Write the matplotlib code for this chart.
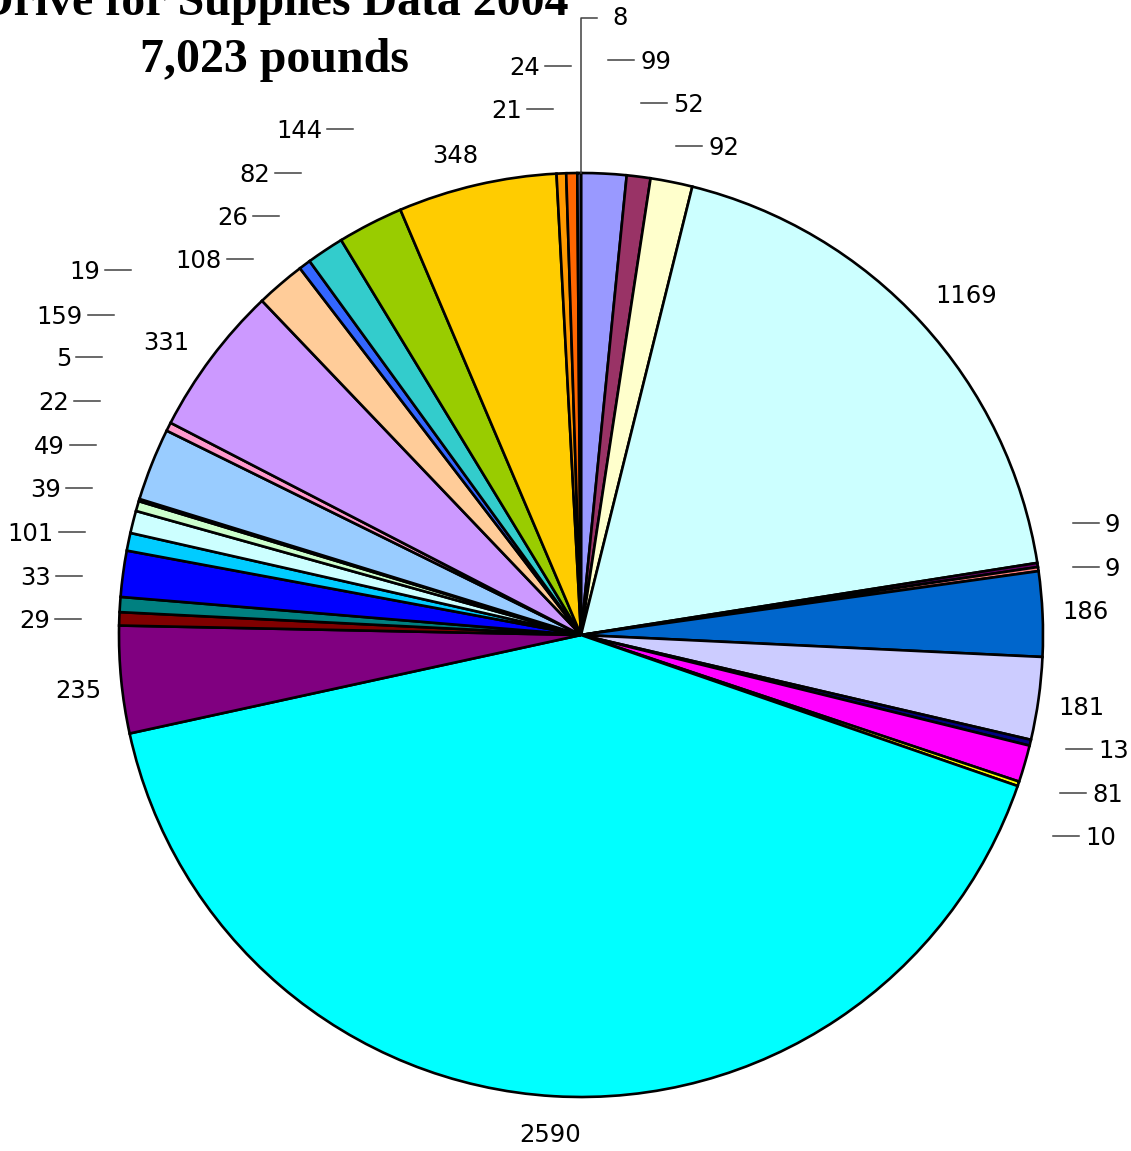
import matplotlib
matplotlib.use("Agg")
import matplotlib.pyplot as plt

# ---- data (clockwise from 12 o'clock) ----
values = [99, 52, 92, 1169, 9, 9, 186, 181, 13, 81, 10, 2590, 235, 29, 33,
          101, 39, 49, 22, 5, 159, 19, 331, 108, 26, 82, 144, 348, 21, 24, 8]
labels = [str(v) for v in values]
colors = ["#9999FF", "#993366", "#FFFFCC", "#CCFFFF", "#660066", "#FF8080",
          "#0066CC", "#CCCCFF", "#000080", "#FF00FF", "#FFFF00", "#00FFFF",
          "#800080", "#800000", "#008080", "#0000FF", "#00CCFF", "#CCFFFF",
          "#CCFFCC", "#FFFF99", "#99CCFF", "#FF99CC", "#CC99FF", "#FFCC99",
          "#3366FF", "#33CCCC", "#99CC00", "#FFCC00", "#FF9900", "#FF6600",
          "#666699"]
title_line1 = "Drive for Supplies Data 2004"
title_line2 = "7,023 pounds"

# ---- label layout (image pixel coords, origin top-left) ----
label_x = [640, 673, 708, 966, 1105, 1105, 1085, 1081, 1098, 1092, 1085, 550,
           78, 50, 51, 54, 61, 65, 69, 71, 83, 100, 166, 222, 248, 270, 322,
           455, 522, 540, 612]
label_y = [62, 105, 148, 296, 525, 569, 612, 708, 751, 795, 838, 1135,
           691, 621, 578, 534, 490, 447, 403, 359, 317, 272, 343, 261, 218,
           175, 131, 156, 111, 68, 18]
label_ha = ["left", "left", "left", "center", "left", "left", "center",
            "center", "left", "left", "left", "center",
            "center", "right", "right", "right", "right", "right", "right",
            "right", "right", "right", "center", "right", "right", "right",
            "right", "center", "right", "right", "left"]

W, H = 1131, 1151
CX, CY, R = 581, 635, 462

fig = plt.figure(figsize=(W / 100, H / 100), dpi=100)
ax = fig.add_axes([0, 0, 1, 1])

ax.pie(values, colors=colors, startangle=270, counterclock=True,
       center=(CX, CY), radius=R,
       wedgeprops=dict(edgecolor="black", linewidth=1.9))
ax.set_xlim(0, W)
ax.set_ylim(H, 0)
ax.set_aspect("equal")
ax.axis("off")

lab_font = dict(family="DejaVu Sans", fontsize=17.5, color="black")
dash_col = "#404040"
for lab, x, y, ha in zip(labels, label_x, label_y, label_ha):
    ax.text(x, y, lab, ha=ha, va="center", **lab_font)
    if ha == "left" and lab != "8":
        ax.plot([x - 32, x - 6], [y - 2, y - 2], color=dash_col, lw=1.1)
    elif ha == "right":
        ax.plot([x + 5, x + 31], [y - 2, y - 2], color=dash_col, lw=1.1)

# leader for the tiny top slice
i8 = len(values) - 1
ax.plot([CX, CX, label_x[i8] - 15], [CY - R, label_y[i8], label_y[i8]],
        color=dash_col, lw=1.1)

title_font = dict(family="Liberation Serif", fontweight="bold", fontsize=34.5,
                  color="black", ha="center", va="baseline")
ax.text(274, 15, title_line1, **title_font)
ax.text(274, 72, title_line2, **title_font)

fig.savefig("out.png", dpi=100)
